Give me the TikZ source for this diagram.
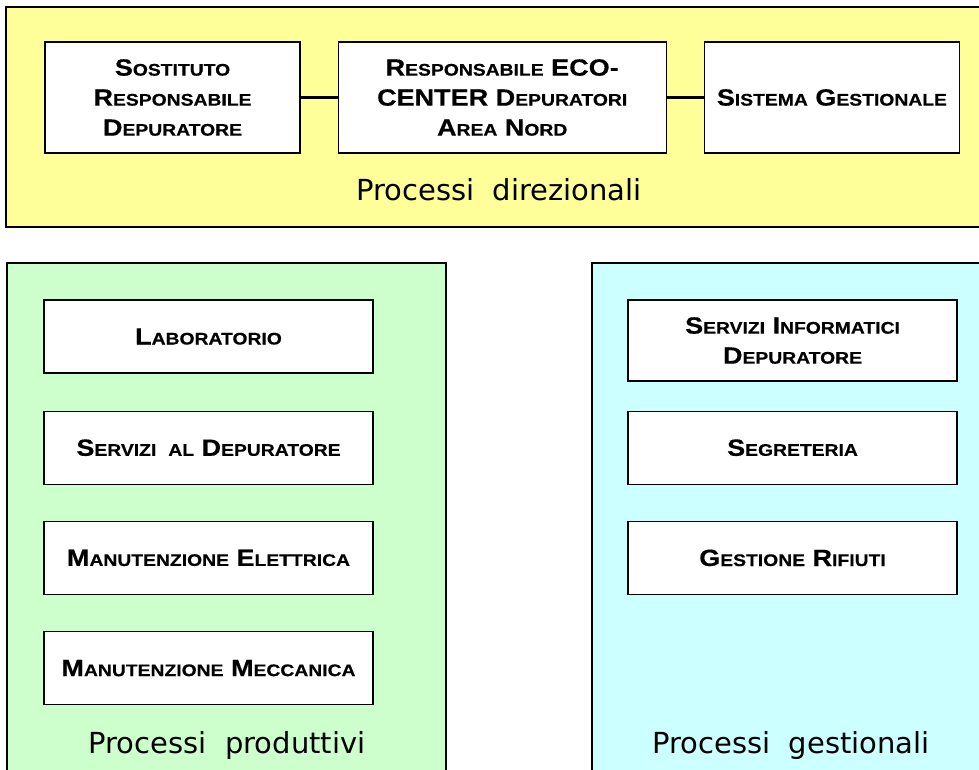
\documentclass[tikz,border=0pt]{standalone}
\usepackage{fontspec}
\newfontfamily\boxfont[FakeStretch=1.15, BoldFeatures={FakeBold=0.4}]{Liberation Sans}
\newfontfamily\labelfont{DejaVu Sans}
\usetikzlibrary{positioning}
\definecolor{direz}{HTML}{FFFF99}
\definecolor{produt}{HTML}{CCFFCC}
\definecolor{gestio}{HTML}{CCFFFF}
\newcommand{\initcap}[2]{#1{\fontsize{16.8}{30}\selectfont #2}}

\begin{document}
\begin{tikzpicture}[x=1pt, y=-1pt,
            node distance = 36pt and 37pt,
            ufficio/.style = {rectangle, draw=black, fill=white, line width=1.2pt,
                              font=\boxfont\bfseries\fontsize{23.5}{30}\selectfont,
                              align=center, inner sep=0pt},
            topbox/.style = {ufficio, minimum width=255pt, minimum height=111pt},
            lowbox/.style = {ufficio, minimum width=329pt, minimum height=73pt},
            processo/.style = {font=\labelfont\fontsize{29}{34}\selectfont,
                               inner sep=0pt, anchor=base}
                               ]
            \useasboundingbox (0,0) rectangle (979,769);
            \clip (0,0) rectangle (979,769);
            % aree
            \draw[fill=direz, line width=1.2pt]  (6,7) rectangle (995,227);
            \draw[fill=produt, line width=1.2pt] (7,263) rectangle (446,790);
            \draw[fill=gestio, line width=1.2pt] (592,263) rectangle (995,790);
            % processi direzionali
            \node[topbox] (SRD) at (172.5,97.5) {\initcap{S}{OSTITUTO}\\ \initcap{R}{ESPONSABILE}\\ \initcap{D}{EPURATORE}};
            \node[topbox, minimum width=328pt] (REC) [right = of SRD] {\initcap{R}{ESPONSABILE} ECO-\\ CENTER \initcap{D}{EPURATORI}\\ \initcap{A}{REA} \initcap{N}{ORD}};
            \node[topbox] (SG)  [right = of REC] {\initcap{S}{ISTEMA} \initcap{G}{ESTIONALE}};
            \node[processo] (PDIR) at (499,200) {Processi\ \ direzionali};
            %
            \draw[line width=3pt] (SRD) -- (REC)
                                  (REC) -- (SG);
            % processi produttivi
            \node[lowbox] (LAB) at (208.5,336.5) {\initcap{L}{ABORATORIO}};
            \node[lowbox] (SDEP) [below = 37pt of LAB] {\initcap{S}{ERVIZI}\hspace{12pt}{\fontsize{16.8}{30}\selectfont AL} \initcap{D}{EPURATORE}};
            \node[lowbox] (MEL)  [below = of SDEP] {\initcap{M}{ANUTENZIONE} \initcap{E}{LETTRICA}};
            \node[lowbox] (MMEC) [below = of MEL] {\initcap{M}{ANUTENZIONE} \initcap{M}{ECCANICA}};
            \node[processo] (PPROD) at (227,753) {Processi\ \ produttivi};
            % processi gestionali
            \node[lowbox, minimum height=81pt] (SID) at (792.5,340.5) {\initcap{S}{ERVIZI} \initcap{I}{NFORMATICI}\\ \initcap{D}{EPURATORE}};
            \node[lowbox] (SEGR) [below = 29pt of SID] {\initcap{S}{EGRETERIA}};
            \node[lowbox] (GRIF) [below = of SEGR] {\initcap{G}{ESTIONE} \initcap{R}{IFIUTI}};
            \node[processo] (PGEST) at (791,753) {Processi\ \ gestionali};
\end{tikzpicture}
\end{document}
